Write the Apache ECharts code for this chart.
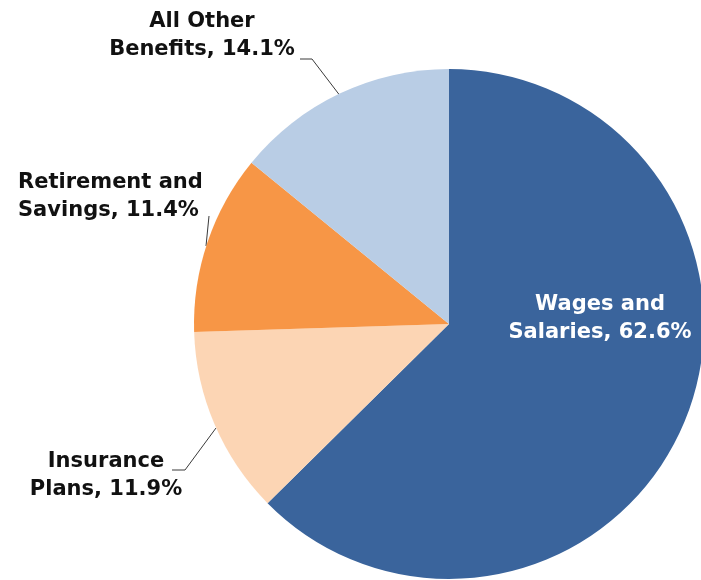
<!DOCTYPE html>
<html>
<head>
<meta charset="utf-8">
<title>Compensation Components</title>
<script src="https://cdn.jsdelivr.net/npm/echarts@6/dist/echarts.min.js"></script>
<style>
  html, body { margin: 0; padding: 0; background: #ffffff; }
  #chart { width: 701px; height: 580px; }
</style>
</head>
<body>
<div id="chart"></div>
<script>
// Share of total compensation by component (percent)
const categories = ['Wages and\nSalaries', 'Insurance\nPlans', 'Retirement and\nSavings', 'All Other\nBenefits'];
const shares = [62.6, 11.9, 11.4, 14.1];
const colors = ['#3a649c', '#fcd5b4', '#f79646', '#b9cde5'];

// Where each label sits and how its leader line runs (index matches categories)
const labelPlacement = [
  { x: 600, y: 319, align: 'center', line: null },
  { x: 106, y: 476, align: 'center', line: [[172, 470], [185, 470], [216, 428]] },
  { x: 18, y: 197, align: 'left', line: [[209, 216], [206, 246]] },
  { x: 202, y: 36, align: 'center', line: [[300, 59], [312, 59], [341, 97]] }
];

const chart = echarts.init(document.getElementById('chart'), null, { renderer: 'canvas' });

const data = categories.map((name, i) => ({
  name: name,
  value: shares[i],
  itemStyle: { color: colors[i] },
  label: i === 0
    ? { color: '#ffffff', position: 'inside' }
    : { color: '#111111', position: 'outside' },
  labelLine: { show: i !== 0 }
}));

chart.setOption({
  animation: false,
  backgroundColor: '#ffffff',
  series: [{
    type: 'pie',
    center: [449, 324],
    radius: [0, 255],
    startAngle: 90,
    clockwise: true,
    data: data,
    itemStyle: { borderWidth: 0 },
    label: {
      show: true,
      overflow: 'none',
      fontFamily: '"DejaVu Sans", Arial, sans-serif',
      fontWeight: 'bold',
      fontSize: 21,
      lineHeight: 28,
      formatter: p => p.name + ', ' + p.value.toFixed(1) + '%'
    },
    labelLine: {
      show: true,
      lineStyle: { color: '#3a3a3a', width: 1 }
    },
    labelLayout: function (params) {
      const cfg = labelPlacement[params.dataIndex];
      const out = {
        x: cfg.x,
        y: cfg.y,
        align: cfg.align,
        verticalAlign: 'middle'
      };
      if (cfg.line) out.labelLinePoints = cfg.line;
      return out;
    },
    emphasis: { disabled: true }
  }]
});
</script>
</body>
</html>
